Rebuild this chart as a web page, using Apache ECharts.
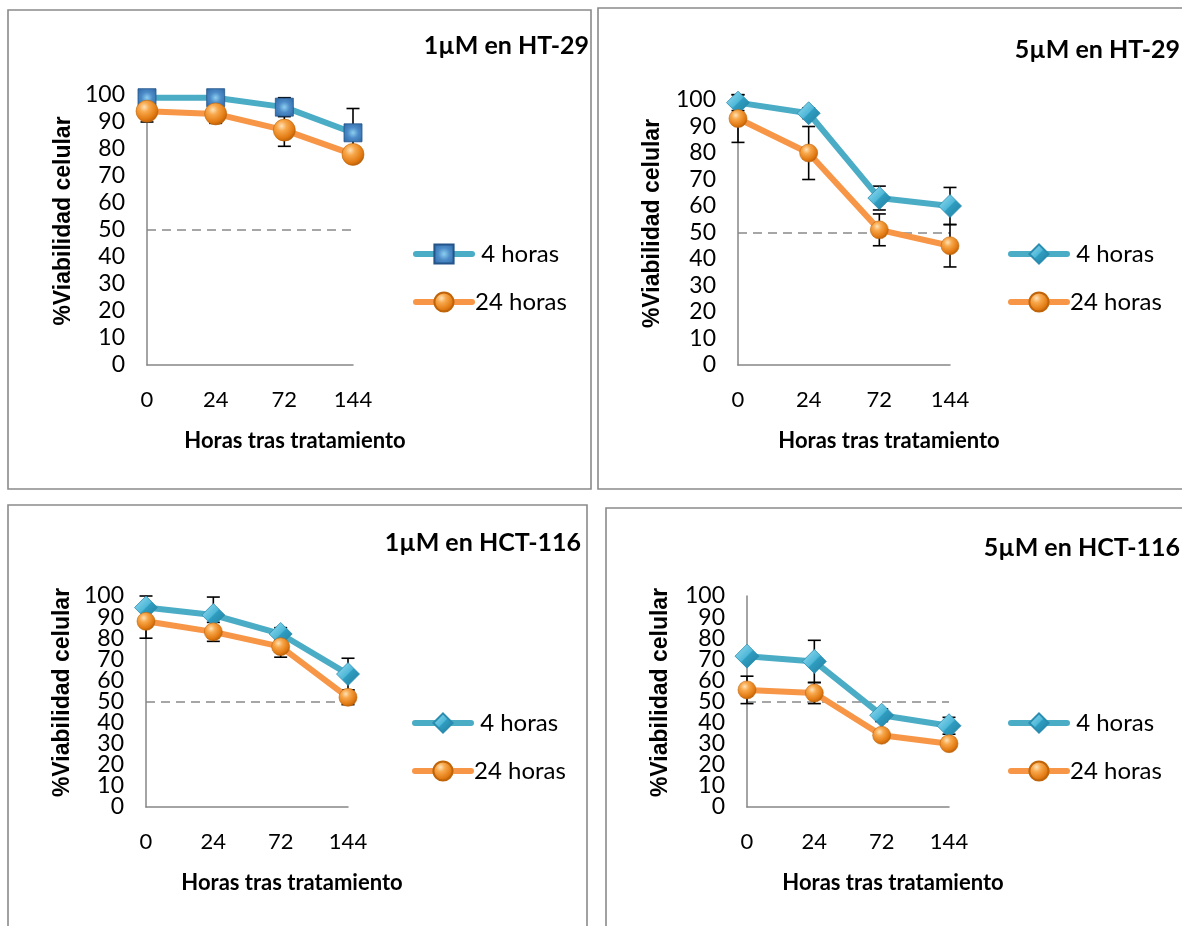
<!DOCTYPE html>
<html><head><meta charset="utf-8">
<script src="https://cdn.jsdelivr.net/npm/echarts@6/dist/echarts.min.js"></script>
<style>html,body{margin:0;padding:0;background:#fff}#c{width:1182px;height:926px}</style>
</head><body><div id="c"></div>
<script>
// ---------- data ----------
const categories = ['0', '24', '72', '144'];
const threshold = 50;
const yMin = 0, yMax = 100, yStep = 10;
const seriesNames = ['4 horas', '24 horas'];
const panelTitles = ['1µM en HT-29', '5µM en HT-29', '1µM en HCT-116', '5µM en HCT-116'];
const xAxisTitle = 'Horas tras tratamiento';
const yAxisTitle = '%Viabilidad celular';

const ht29_1uM_4h = [99, 99, 95.5, 86];
const ht29_1uM_4h_err = [1, 1, 3.5, 9];
const ht29_1uM_24h = [94, 93, 87, 78];
const ht29_1uM_24h_err = [4, 3.5, 6, 2];

const ht29_5uM_4h = [99, 95, 63, 60];
const ht29_5uM_4h_err = [3, 2, 4.5, 7];
const ht29_5uM_24h = [93, 80, 51, 45];
const ht29_5uM_24h_err = [9, 10, 6, 8];

const hct116_1uM_4h = [94.5, 91, 82, 63];
const hct116_1uM_4h_err = [5.5, 8.5, 3, 7.5];
const hct116_1uM_24h = [88, 83, 76, 52];
const hct116_1uM_24h_err = [8, 4.5, 5, 3.5];

const hct116_5uM_4h = [71.5, 69, 43.5, 38.5];
const hct116_5uM_4h_err = [2, 10, 3, 4];
const hct116_5uM_24h = [55.5, 54, 34, 30];
const hct116_5uM_24h_err = [6.5, 5, 1.5, 1.5];

const panelData = [
  { h4: ht29_1uM_4h, e4: ht29_1uM_4h_err, h24: ht29_1uM_24h, e24: ht29_1uM_24h_err },
  { h4: ht29_5uM_4h, e4: ht29_5uM_4h_err, h24: ht29_5uM_24h, e24: ht29_5uM_24h_err },
  { h4: hct116_1uM_4h, e4: hct116_1uM_4h_err, h24: hct116_1uM_24h, e24: hct116_1uM_24h_err },
  { h4: hct116_5uM_4h, e4: hct116_5uM_4h_err, h24: hct116_5uM_24h, e24: hct116_5uM_24h_err }
];

// ---------- layout / style ----------
const layout = [
  { grid: {left: 147, top: 95, width: 206, height: 270}, box: [8, 10, 583, 479], title: {right: 593, top: 33},
    legend: {left: 413, top: 242}, sq: true, s4: 18, s24: 22, yGap: 72 },
  { grid: {left: 738, top: 100, width: 212, height: 265}, box: [598, 8, 600, 481], title: {right: 2, top: 37},
    legend: {left: 1008, top: 242}, sq: false, s4: [23, 23], s24: 18, yGap: 74 },
  { grid: {left: 146, top: 596, width: 202, height: 211}, box: [8, 505, 579, 440], title: {right: 601, top: 530},
    legend: {left: 412, top: 711}, sq: false, s4: [23, 23], s24: 18, yGap: 72 },
  { grid: {left: 747, top: 596, width: 202, height: 211}, box: [606, 508, 600, 440], title: {right: 2, top: 535},
    legend: {left: 1008, top: 711}, sq: false, s4: [24, 24], s24: 18, yGap: 75 }
];

const C4 = '#4bacc6', C24 = '#f79646';
const CAL = 'Lato, "Open Sans", sans-serif';

const orangeBall = { type: 'radial', x: 0.38, y: 0.32, r: 0.72, colorStops: [
  {offset: 0, color: '#fde2b8'}, {offset: 0.3, color: '#f8a84c'}, {offset: 0.75, color: '#e27a12'}, {offset: 1, color: '#b35c08'}] };
const blueDiamond = { type: 'linear', x: 0, y: 0, x2: 1, y2: 1, colorStops: [
  {offset: 0, color: '#9fe0f2'}, {offset: 0.48, color: '#4fb8d8'}, {offset: 0.52, color: '#2f9cc0'}, {offset: 1, color: '#1f7d9c'}] };
const blueSquare = { type: 'radial', x: 0.5, y: 0.5, r: 0.72, colorStops: [
  {offset: 0, color: '#8ccff0'}, {offset: 0.4, color: '#4d8cc8'}, {offset: 1, color: '#2a62a0'}] };

function errRender(params, api) {
  const x = api.value(0), v = api.value(1), e = api.value(2);
  const hi = api.coord([x, v + e]), lo = api.coord([x, v - e]);
  const cw = 6.5;
  const st = { stroke: '#000', lineWidth: 1.6 };
  return { type: 'group', children: [
    { type: 'line', shape: {x1: hi[0], y1: hi[1], x2: lo[0], y2: lo[1]}, style: st },
    { type: 'line', shape: {x1: hi[0] - cw, y1: hi[1], x2: hi[0] + cw, y2: hi[1]}, style: st },
    { type: 'line', shape: {x1: lo[0] - cw, y1: lo[1], x2: lo[0] + cw, y2: lo[1]}, style: st }
  ]};
}

const grids = [], xAxes = [], yAxes = [], series = [], titles = [], legends = [], graphics = [];
const axisLine = { show: true, lineStyle: { color: '#868686', width: 1.5 } };
const yLabelStyle = { color: '#000', fontSize: 23, fontFamily: CAL, margin: 22 };

layout.forEach((L, p) => {
  const d = panelData[p];
  const ya = 2 * p;
  grids.push(Object.assign({ containLabel: false }, L.grid));
  xAxes.push({
    type: 'category', gridIndex: p, data: categories, boundaryGap: false,
    axisLine, axisTick: { show: false }, splitLine: { show: false },
    axisLabel: { color: '#000', fontSize: 22, fontFamily: CAL, margin: 24, interval: 0 },
    name: xAxisTitle, nameLocation: 'middle', nameGap: 65,
    nameTextStyle: { color: '#000', fontSize: 22, fontWeight: 'bold', fontFamily: CAL, padding: [0, 0, 0, 90] }
  });
  // main y axis: even tick labels (0, 20, ... 100)
  yAxes.push({
    type: 'value', gridIndex: p, min: yMin, max: yMax, interval: 2 * yStep, position: 'left', offset: 0,
    axisLine, axisTick: { show: false }, splitLine: { show: false },
    axisLabel: Object.assign({ showMinLabel: true, showMaxLabel: true }, yLabelStyle),
    name: yAxisTitle, nameLocation: 'middle', nameGap: L.yGap,
    nameTextStyle: { color: '#000', fontSize: 23, fontWeight: 'bold', fontFamily: '"Liberation Sans", Arial, sans-serif', padding: [0, 0, 0, 18] }
  });
  // companion y axis on the same scale: odd tick labels (10, 30, ... 90)
  yAxes.push({
    type: 'value', gridIndex: p, min: yMin, max: yMax, interval: yStep, position: 'left', offset: 0,
    axisLine: { show: false }, axisTick: { show: false }, splitLine: { show: false },
    axisLabel: Object.assign({ showMinLabel: false, showMaxLabel: false,
      formatter: (v) => ((v / yStep) % 2 === 1 ? String(v) : '') }, yLabelStyle)
  });
  const n4 = seriesNames[0] + '|' + p, n24 = seriesNames[1] + '|' + p;
  series.push({
    type: 'custom', name: 'err4|' + p, xAxisIndex: p, yAxisIndex: ya, z: 1,
    renderItem: errRender, encode: { x: 0, y: 1 },
    data: categories.map((c, i) => [i, d.h4[i], d.e4[i]])
  });
  series.push({
    type: 'custom', name: 'err24|' + p, xAxisIndex: p, yAxisIndex: ya, z: 1,
    renderItem: errRender, encode: { x: 0, y: 1 },
    data: categories.map((c, i) => [i, d.h24[i], d.e24[i]])
  });
  series.push({
    type: 'line', name: n4, xAxisIndex: p, yAxisIndex: ya, z: 3, data: d.h4,
    symbol: L.sq ? 'rect' : 'diamond', symbolSize: L.s4,
    lineStyle: { color: C4, width: 6 },
    itemStyle: { color: L.sq ? blueSquare : blueDiamond, borderColor: L.sq ? '#24558a' : '#2a8db0', borderWidth: 0.8 },
    emphasis: { disabled: true },
    markLine: {
      silent: true, symbol: 'none', z: 0, label: { show: false },
      lineStyle: { color: '#a6a6a6', type: [9, 6], width: 2 },
      data: [{ yAxis: threshold }]
    }
  });
  series.push({
    type: 'line', name: n24, xAxisIndex: p, yAxisIndex: ya, z: 4, data: d.h24,
    symbol: 'circle', symbolSize: L.s24,
    lineStyle: { color: C24, width: 6 },
    itemStyle: { color: orangeBall, borderColor: '#c0650a', borderWidth: 0.6 },
    emphasis: { disabled: true }
  });
  titles.push({
    text: panelTitles[p], right: L.title.right, top: L.title.top, padding: 0,
    textStyle: { color: '#000', fontSize: 25, fontWeight: 'bold', fontFamily: CAL }
  });
  legends.push({
    orient: 'vertical', left: L.legend.left, top: L.legend.top, padding: 0,
    itemWidth: 56, itemHeight: 24, itemGap: 24, selectedMode: false,
    lineStyle: { width: 6, cap: 'round' },
    data: [n4, n24],
    formatter: (name) => (name.indexOf(seriesNames[1]) === 0 ? '' : ' ') + name.split('|')[0],
    textStyle: { color: '#000', fontSize: 24, fontFamily: CAL, padding: [0, 0, 0, -2] }
  });
  graphics.push({
    type: 'rect', silent: true, z: -10,
    shape: { x: L.box[0], y: L.box[1], width: L.box[2], height: L.box[3] },
    style: { fill: 'none', stroke: '#8a8a8a', lineWidth: 1.6 }
  });
});

const chart = echarts.init(document.getElementById('c'), null, { renderer: 'canvas' });
chart.setOption({
  backgroundColor: '#fff',
  animation: false,
  title: titles,
  legend: legends,
  grid: grids,
  xAxis: xAxes,
  yAxis: yAxes,
  series: series,
  graphic: graphics
});
</script>
</body></html>
